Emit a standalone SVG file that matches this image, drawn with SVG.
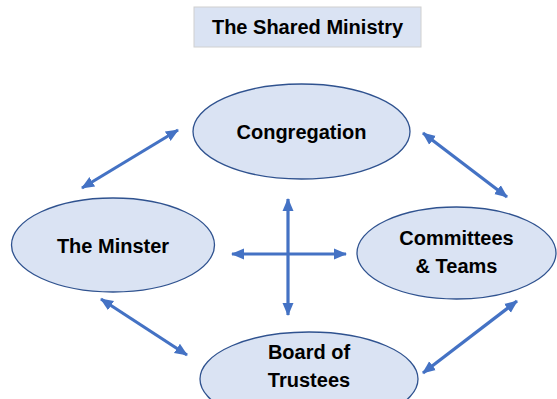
<svg xmlns="http://www.w3.org/2000/svg" width="557" height="399" viewBox="0 0 557 399">
  <style>
    .node { fill: #dae3f3; stroke: #2f528f; stroke-width: 1.3; }
    .label { font-family: "Liberation Sans", Arial, sans-serif; font-weight: bold; font-size: 20px; fill: #000; text-anchor: middle; }
    .conn { stroke: #4472c4; stroke-width: 3.2; fill: none; marker-start: url(#ah); marker-end: url(#ah); }
  </style>
  <defs>
    <marker id="ah" markerUnits="userSpaceOnUse" markerWidth="14" markerHeight="14" viewBox="0 0 14 14" refX="12" refY="7" orient="auto-start-reverse">
      <path d="M0,1.5 L13,7 L0,12.5 Z" fill="#4472c4"/>
    </marker>
  </defs>
  <rect width="557" height="399" fill="#ffffff"/>
  <g id="title">
    <rect x="194" y="7" width="227" height="40" fill="#dae3f3" stroke="#d0d0d0" stroke-width="1"/>
    <text class="label" x="307.5" y="34">The Shared Ministry</text>
  </g>
  <g id="connectors">
    <line class="conn" x1="178" y1="130" x2="82" y2="188"/>
    <line class="conn" x1="423" y1="133" x2="507" y2="197"/>
    <line class="conn" x1="101" y1="299" x2="187" y2="355"/>
    <line class="conn" x1="517" y1="301" x2="423" y2="373"/>
    <line class="conn" x1="288" y1="199" x2="288" y2="315"/>
    <line class="conn" x1="232" y1="254" x2="346" y2="254"/>
  </g>
  <g id="congregation">
    <ellipse class="node" cx="301.5" cy="131.5" rx="108.5" ry="47.5"/>
    <text class="label" x="301.5" y="139">Congregation</text>
  </g>
  <g id="minster">
    <ellipse class="node" cx="113" cy="245" rx="101.5" ry="47"/>
    <text class="label" x="113" y="253">The Minster</text>
  </g>
  <g id="committees">
    <ellipse class="node" cx="456.5" cy="253" rx="99.5" ry="46"/>
    <text class="label" x="456.5" y="245">Committees</text>
    <text class="label" x="456.5" y="273">&amp; Teams</text>
  </g>
  <g id="board">
    <ellipse class="node" cx="309" cy="379" rx="109" ry="47"/>
    <text class="label" x="309" y="359">Board of</text>
    <text class="label" x="309" y="387">Trustees</text>
  </g>
</svg>
